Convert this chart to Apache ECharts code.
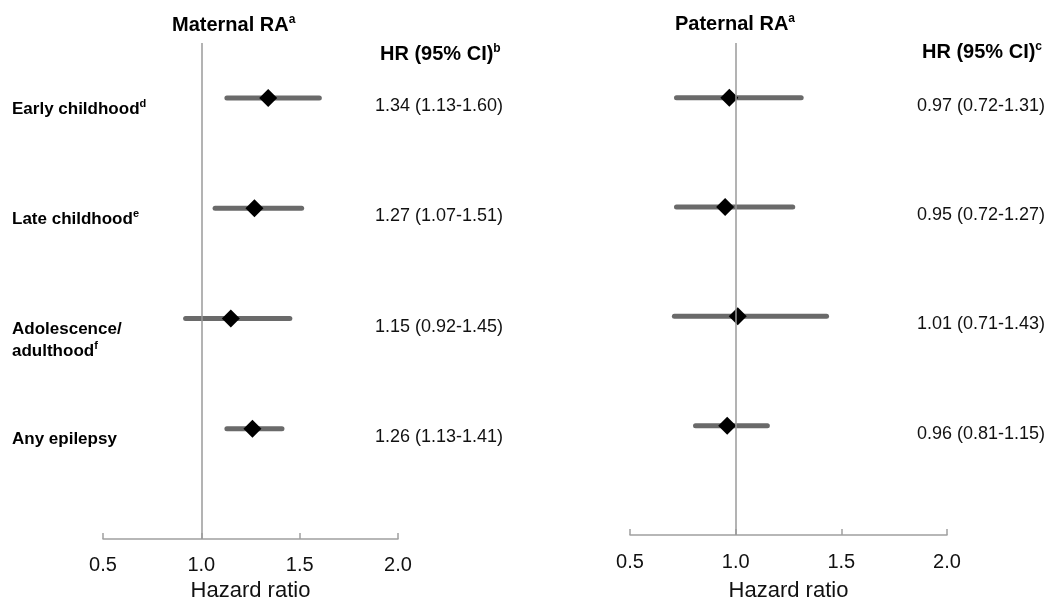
<!DOCTYPE html>
<html>
<head>
<meta charset="utf-8">
<title>Maternal / paternal RA forest plot</title>
<script src="https://cdn.jsdelivr.net/npm/echarts@6/dist/echarts.min.js"></script>
<style>
  html, body { margin: 0; padding: 0; background: #fff; }
  #chart { width: 1057px; height: 608px; }
</style>
</head>
<body>
<div id="chart"></div>
<script>
// rows, top to bottom
const categories = ["Early childhood", "Late childhood", "Adolescence/\nadulthood", "Any epilepsy"];
const categorySup = ["d", "e", "f", ""];

// maternal RA
const maternalHR = [1.34, 1.27, 1.15, 1.26];
const maternalLo = [1.13, 1.07, 0.92, 1.13];
const maternalHi = [1.60, 1.51, 1.45, 1.41];

// paternal RA
const paternalHR = [0.97, 0.95, 1.01, 0.96];
const paternalLo = [0.72, 0.72, 0.71, 0.81];
const paternalHi = [1.31, 1.27, 1.43, 1.15];

const xTicks = [0.5, 1.0, 1.5, 2.0];

const FONT = "'Liberation Sans', Arial, sans-serif";
const rowCount = categories.length;
// row i sits at y value (rowCount - i), y axis runs 0 .. rowCount + 0.5
const rowY = (i) => rowCount - i;
const rowIndex = (v) => {
  const i = rowCount - v;
  return Number.isInteger(i) && i >= 0 && i < rowCount ? i : -1;
};

const fmt = (n) => n.toFixed(2);
const hrText = (hr, lo, hi) => (v) => {
  const i = rowIndex(v);
  return i < 0 ? "" : `${fmt(hr[i])} (${fmt(lo[i])}-${fmt(hi[i])})`;
};

const catLabel = (v) => {
  const i = rowIndex(v);
  if (i < 0) return "";
  const lines = categories[i].split("\n");
  return lines
    .map((l, k) => `{b|${l}}` + (k === lines.length - 1 && categorySup[i] ? `{s|${categorySup[i]}}` : ""))
    .join("\n");
};

const supTitle = (text, sup, size) => ({
  text: `{t|${text}}{s|${sup}}`,
  textStyle: {
    rich: {
      t: { fontFamily: FONT, fontWeight: "bold", fontSize: size, color: "#000", lineHeight: size + 2 },
      s: { fontFamily: FONT, fontWeight: "bold", fontSize: Math.round(size * 0.6), color: "#000",
           lineHeight: Math.round(size * 0.6), verticalAlign: "top" },
    },
  },
  padding: 0,
});

const xAxisBase = (gridIndex, nameGap, labelMargin) => ({
  type: "value",
  gridIndex,
  min: xTicks[0],
  max: xTicks[xTicks.length - 1],
  interval: xTicks[1] - xTicks[0],
  name: "Hazard ratio",
  nameLocation: "middle",
  nameGap,
  nameTextStyle: { fontFamily: FONT, fontSize: 22, color: "#111" },
  axisLine: { show: true, lineStyle: { color: "#a0a0a0", width: 1.5 } },
  axisTick: { show: true, inside: true, length: 6, lineStyle: { color: "#a0a0a0", width: 1.5 } },
  axisLabel: { fontFamily: FONT, fontSize: 20, color: "#111", margin: labelMargin, formatter: (v) => v.toFixed(1) },
  splitLine: { show: false },
});

const yAxisBase = (gridIndex, position) => ({
  type: "value",
  gridIndex,
  position,
  min: 0,
  max: rowCount + 0.5,
  interval: 1,
  axisLine: { show: false },
  axisTick: { show: false },
  splitLine: { show: false },
  axisLabel: { show: false },
});

const errorSeries = (name, xIndex, yIndex, lo, hi) => ({
  name,
  type: "custom",
  xAxisIndex: xIndex,
  yAxisIndex: yIndex,
  data: lo.map((l, i) => [l, hi[i], rowY(i)]),
  encode: { x: [0, 1], y: 2 },
  renderItem: (params, api) => {
    const p1 = api.coord([api.value(0), api.value(2)]);
    const p2 = api.coord([api.value(1), api.value(2)]);
    return {
      type: "line",
      shape: { x1: p1[0], y1: p1[1], x2: p2[0], y2: p2[1] },
      style: { stroke: "#6a6a6a", lineWidth: 5, lineCap: "round" },
    };
  },
  markLine: {
    silent: true,
    symbol: "none",
    label: { show: false },
    lineStyle: { color: "#9a9a9a", width: 1.5, type: "solid" },
    data: [{ xAxis: 1 }],
  },
  z: 2,
});

const pointSeries = (name, xIndex, yIndex, hr) => ({
  name,
  type: "scatter",
  xAxisIndex: xIndex,
  yAxisIndex: yIndex,
  data: hr.map((h, i) => [h, rowY(i)]),
  symbol: "diamond",
  symbolSize: 18,
  itemStyle: { color: "#000", opacity: 1 },
  z: 3,
});

const chart = echarts.init(document.getElementById("chart"), null, { renderer: "canvas" });

const option = {
  backgroundColor: "#fff",
  animation: false,
  title: [
    Object.assign(supTitle("Maternal RA", "a", 20), { left: 172, top: 14 }),
    Object.assign(supTitle("HR (95% CI)", "b", 20), { left: 380, top: 43 }),
    Object.assign(supTitle("Paternal RA", "a", 20), { left: 675, top: 13 }),
    Object.assign(supTitle("HR (95% CI)", "c", 20), { left: 922, top: 41 }),
  ],
  grid: [
    { left: 103, right: 659, top: 43, bottom: 69 },
    { left: 630, right: 110, top: 43, bottom: 73 },
  ],
  xAxis: [xAxisBase(0, 40, 16), xAxisBase(1, 45, 17)],
  yAxis: [
    // grid 0: category names on the left, HR text on the right
    Object.assign(yAxisBase(0, "left"), {
      axisLabel: {
        show: true,
        align: "left",
        verticalAlign: "top",
        margin: 91,
        formatter: catLabel,
        rich: {
          b: { fontFamily: FONT, fontWeight: "bold", fontSize: 17, color: "#000", lineHeight: 22 },
          s: { fontFamily: FONT, fontWeight: "bold", fontSize: 11, color: "#000", lineHeight: 11, verticalAlign: "top" },
        },
      },
    }),
    Object.assign(yAxisBase(0, "right"), {
      axisLabel: {
        show: true, align: "left", verticalAlign: "top", margin: -23,
        fontFamily: FONT, fontSize: 18, color: "#111", lineHeight: 16,
        formatter: hrText(maternalHR, maternalLo, maternalHi),
      },
    }),
    // grid 1
    yAxisBase(1, "left"),
    Object.assign(yAxisBase(1, "right"), {
      axisLabel: {
        show: true, align: "left", verticalAlign: "top", margin: -30,
        fontFamily: FONT, fontSize: 18, color: "#111", lineHeight: 16,
        formatter: hrText(paternalHR, paternalLo, paternalHi),
      },
    }),
  ],
  series: [
    errorSeries("Maternal CI", 0, 0, maternalLo, maternalHi),
    pointSeries("Maternal HR", 0, 0, maternalHR),
    errorSeries("Paternal CI", 1, 2, paternalLo, paternalHi),
    pointSeries("Paternal HR", 1, 2, paternalHR),
  ],
};

chart.setOption(option);
window.addEventListener("resize", () => chart.resize());
</script>
</body>
</html>
